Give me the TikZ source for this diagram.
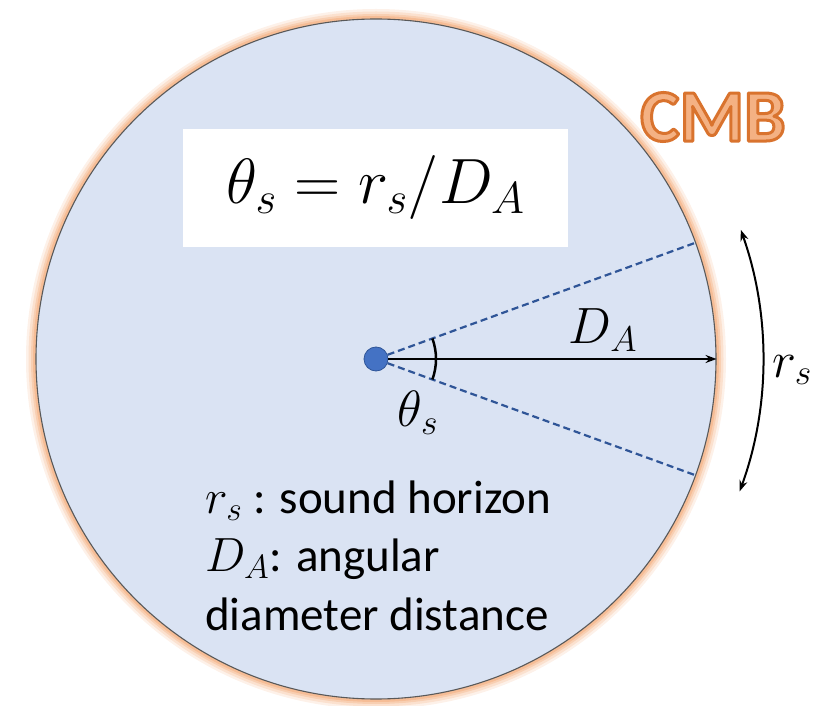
\RequirePackage{fix-cm}
\documentclass[tikz,border=0pt]{standalone}
\usepackage[no-math]{fontspec}
\setmainfont{Carlito}
\usetikzlibrary{arrows.meta,calc}
\definecolor{fillblue}{HTML}{DAE3F3}
\definecolor{glowc}{HTML}{F4B183}
\definecolor{cmbfill}{HTML}{F4B183}
\definecolor{cmbline}{HTML}{D9732E}
\definecolor{dotblue}{HTML}{4472C4}
\definecolor{dotline}{HTML}{2F5597}
\definecolor{dashc}{HTML}{2F5597}
\newcommand\myoutline[1]{%
  {\color{cmbfill}\special{pdf:code 2 Tr 3 w 1 j 0.851 0.451 0.180 RG}#1\special{pdf:code 0 Tr}}}
\newcommand\legmath[1]{{\fontsize{48}{52}\selectfont$#1$}}
\tikzset{
  mathlbl/.style={font=\fontsize{51}{56}\selectfont, inner sep=0pt},
  legend/.style={font=\fontsize{47}{52}\selectfont, inner sep=0pt, anchor=base west},
  dashline/.style={draw=dashc, line width=2.2pt, dash pattern=on 7pt off 4pt},
  glow/.style={draw=glowc},
}
\begin{document}
\begin{tikzpicture}[x=1pt,y=1pt]
\useasboundingbox (0,0) rectangle (814,705);
% glow
\foreach \w/\o in {20/0.18, 15/0.25, 10/0.38, 6/0.6}{
  \draw[glow, line width=\w pt, opacity=\o] (376,346) circle[radius=340pt];
}
\node[circle, fill=fillblue, draw=black!65, line width=1.1pt, minimum size=680pt, inner sep=0pt] (cmb) at (376,346) {};
% equation box
\node[fill=white, minimum width=385pt, minimum height=118pt, inner sep=0pt] (eq) at (375.5,517)
  {\fontsize{64}{70}\selectfont $\theta_s = r_s/D_A$};
% CMB label
\node[font=\fontsize{74}{80}\selectfont\bfseries, inner sep=0pt] (cmbtext) at (713,588)
  {\myoutline{CMB}};
% center dot
\node[circle, fill=dotblue, draw=dotline, line width=0.8pt, minimum size=24pt, inner sep=0pt] (O) at (376,346) {};
% dashed lines
\draw[dashline] (O) -- (cmb.20.5);
\draw[dashline] (O) -- (cmb.-20.5);
% radius arrow
\draw[line width=2pt, -{Stealth[length=11pt,width=8pt]}] (O) -- (cmb.east);
% angle arc
\draw[line width=2.5pt] ($(O.center)+(-20:60pt)$) coordinate (a1) arc[start angle=-20, end angle=20, radius=60pt] coordinate (a2);
% outer arc with arrows
\coordinate (r1) at ($(O.center)+(-20:387pt)$);
\draw[line width=2pt, {Stealth[length=11pt,width=8pt]}-{Stealth[length=11pt,width=8pt]}] (r1) arc[start angle=-20, end angle=19.5, radius=387pt] coordinate (r2);
% labels
\node[mathlbl] (DA) at (603,375) {$D_A$};
\node[mathlbl] (th) at (418,292) {$\theta_s$};
\node[mathlbl] (rs) at (792,335) {$r_s$};
% legend
\node[legend] (l1) at (205,192) {\legmath{r_s} : sound horizon};
\node[legend] (l2) at (205,134) {\legmath{D_A}: angular};
\node[legend] (l3) at (205,75) {diameter distance};
\end{tikzpicture}
\end{document}
